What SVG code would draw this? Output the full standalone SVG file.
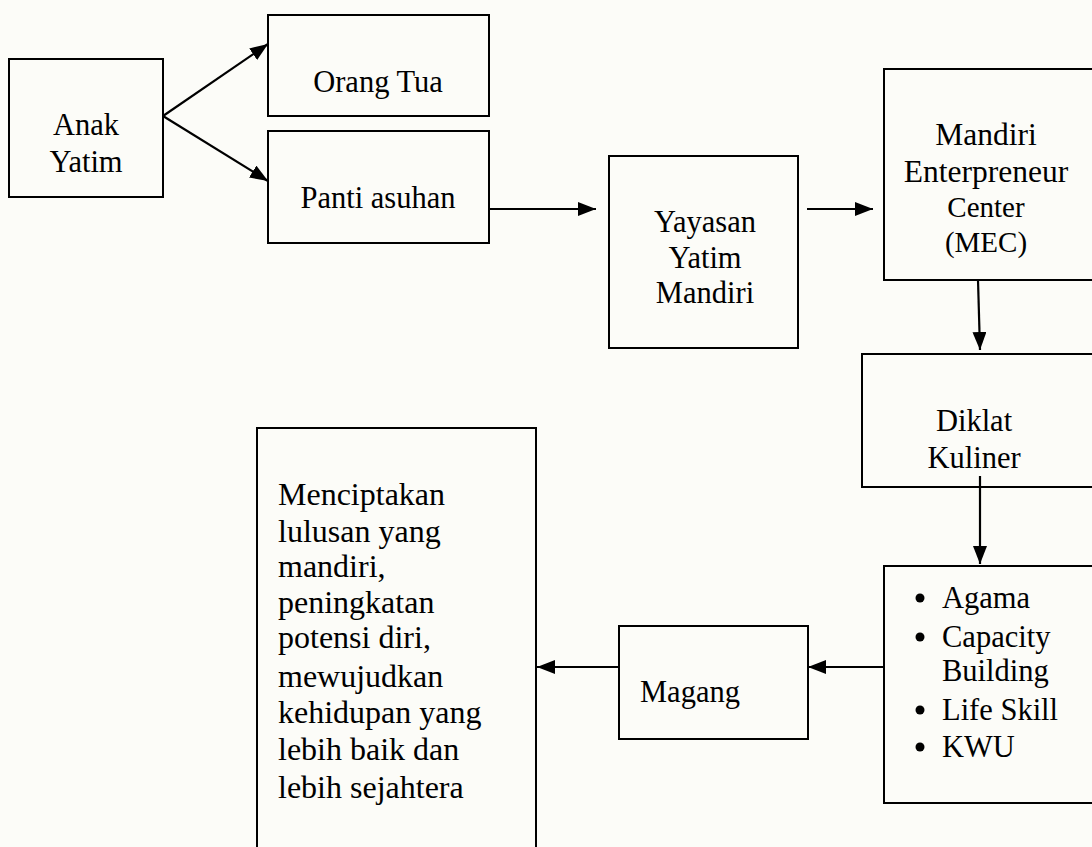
<svg xmlns="http://www.w3.org/2000/svg" width="1092" height="847" viewBox="0 0 1092 847">
<style>
.box{fill:none;stroke:#000;stroke-width:2}
.t{font-family:"Liberation Serif","Times New Roman",serif;font-size:30.5px;fill:#000}
.c{text-anchor:middle}
.s{font-size:29px}
.b{font-size:32px}
.ln{stroke:#000;stroke-width:2.2;fill:none}
</style>
<defs>
<marker id="ah" viewBox="0 0 18 14" refX="18" refY="7" markerWidth="18" markerHeight="14" markerUnits="userSpaceOnUse" orient="auto">
<path d="M0,0 L18,7 L0,14 z" fill="#000"/>
</marker>
</defs>
<rect width="1092" height="847" fill="#fcfcf8"/>
<g id="anak">
<rect class="box" x="9" y="59" width="154" height="138"/>
<text class="t c" x="86" y="135">Anak</text>
<text class="t c" x="86" y="172">Yatim</text>
</g>
<g id="orangtua">
<rect class="box" x="268" y="15" width="221" height="101"/>
<text class="t c" x="378" y="92">Orang Tua</text>
</g>
<g id="panti">
<rect class="box" x="268" y="131" width="221" height="112"/>
<text class="t c" x="378" y="208">Panti asuhan</text>
</g>
<g id="yayasan">
<rect class="box" x="609" y="156" width="189" height="192"/>
<text class="t c" x="705" y="232">Yayasan</text>
<text class="t c" x="705" y="268">Yatim</text>
<text class="t c" x="705" y="303">Mandiri</text>
</g>
<g id="mec">
<rect class="box" x="884" y="69" width="220" height="211"/>
<text class="t c" x="986" y="145" style="font-size:31.5px">Mandiri</text>
<text class="t c" x="986" y="182" style="font-size:31.5px">Enterpreneur</text>
<text class="t c s" x="986" y="217">Center</text>
<text class="t c s" x="986" y="252">(MEC)</text>
</g>
<g id="diklat">
<rect class="box" x="862" y="354" width="240" height="133"/>
<text class="t c" x="974" y="431">Diklat</text>
<text class="t c" x="974" y="468">Kuliner</text>
</g>
<g id="materi">
<rect class="box" x="884" y="566" width="220" height="237"/>
<circle cx="920" cy="598" r="4.5" fill="#000"/>
<text class="t" x="942" y="608">Agama</text>
<circle cx="920" cy="637" r="4.5" fill="#000"/>
<text class="t" x="942" y="647">Capacity</text>
<text class="t" x="942" y="681">Building</text>
<circle cx="920" cy="710" r="4.5" fill="#000"/>
<text class="t" x="942" y="720">Life Skill</text>
<circle cx="920" cy="747" r="4.5" fill="#000"/>
<text class="t" x="942" y="757">KWU</text>
</g>
<g id="magang">
<rect class="box" x="619" y="626" width="189" height="113"/>
<text class="t" x="640" y="702">Magang</text>
</g>
<g id="tujuan">
<rect class="box" x="257" y="428" width="279" height="440"/>
<text class="t b" x="278" y="505">Menciptakan</text>
<text class="t b" x="278" y="542">lulusan yang</text>
<text class="t b" x="278" y="577">mandiri,</text>
<text class="t b" x="278" y="613">peningkatan</text>
<text class="t b" x="278" y="648">potensi diri,</text>
<text class="t b" x="278" y="687">mewujudkan</text>
<text class="t b" x="278" y="723">kehidupan yang</text>
<text class="t b" x="278" y="760">lebih baik dan</text>
<text class="t b" x="278" y="798">lebih sejahtera</text>
</g>
<g id="connectors">
<line class="ln" x1="163" y1="116" x2="268" y2="44" marker-end="url(#ah)"/>
<line class="ln" x1="163" y1="116" x2="268" y2="181" marker-end="url(#ah)"/>
<line class="ln" x1="489" y1="209" x2="596" y2="209" marker-end="url(#ah)"/>
<line class="ln" x1="807" y1="209" x2="873" y2="209" marker-end="url(#ah)"/>
<line class="ln" x1="978" y1="280" x2="980" y2="350" marker-end="url(#ah)"/>
<line class="ln" x1="980" y1="476" x2="980" y2="564" marker-end="url(#ah)"/>
<line class="ln" x1="884" y1="667" x2="808" y2="667" marker-end="url(#ah)"/>
<line class="ln" x1="619" y1="667" x2="537" y2="667" marker-end="url(#ah)"/>
</g>
</svg>
